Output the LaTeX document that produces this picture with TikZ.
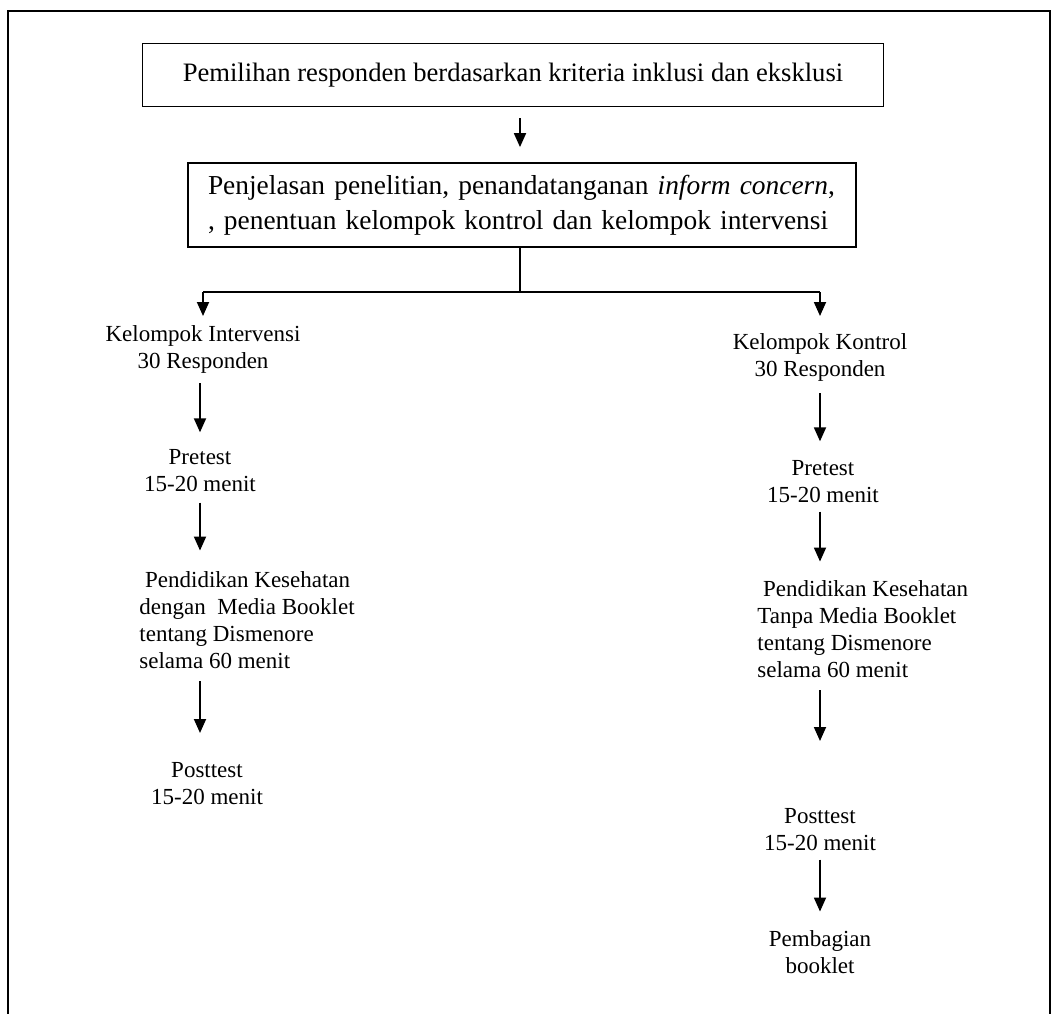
\documentclass[tikz,border=0pt]{standalone}
\usepackage{fontspec}
\setmainfont{Liberation Serif}
\usetikzlibrary{arrows.meta}
\begin{document}
\begin{tikzpicture}[x=0.5pt,y=-0.5pt,>={Triangle[length=7pt,width=6pt]},
  font=\fontsize{11.5}{13.5}\selectfont,
  box/.style={draw,line width=0.6pt,minimum width=370.5pt,minimum height=31.5pt,
    font=\fontsize{13.3}{16}\selectfont},
  txt/.style={align=center,inner sep=1pt},
  arr/.style={->,line width=0.9pt}]
  \useasboundingbox (0,0) rectangle (1057,1014);
  \draw[line width=1pt] (8,1014) -- (8,11) -- (1050,11) -- (1050,1014);
  % alur atas
  \node[box] (pilih) at (513,75) {Pemilihan responden berdasarkan kriteria inklusi dan eksklusi};
  \node[draw,line width=0.9pt,text width=314pt,inner xsep=10pt,minimum height=42pt,align=left,
    font=\fontsize{13.7}{17.5}\selectfont]
    (jelas) at (522,205) {Penjelasan penelitian, penandatanganan \textit{inform concern},\\, penentuan kelompok kontrol dan kelompok intervensi};
  \coordinate (cabang) at (520,292);
  \coordinate (kiri) at (203,292);
  \coordinate (kanan) at (820,292);
  \coordinate (kolKi) at (200,0);
  \draw[arr] (pilih.south -| cabang) ++(0,11) -- ([yshift=7.5pt]jelas.north -| cabang);
  \draw[line width=0.8pt] (jelas.south -| cabang) -- (cabang);
  \draw[line width=0.8pt] (kiri) -- (kanan);
  % kelompok intervensi
  \node[txt] (intv) at (203,349) {Kelompok Intervensi\\30 Responden};
  \node[txt] (preI) at (200,471) {Pretest\\15-20 menit};
  \node[txt,align=left,anchor=west] (pendI) at (137,620) {\ Pendidikan Kesehatan\\dengan \ Media Booklet\\tentang Dismenore\\selama 60 menit};
  \node[txt] (postI) at (207,784) {Posttest\\15-20 menit};
  % kelompok kontrol
  \node[txt] (ktrl) at (820,357) {Kelompok Kontrol\\30 Responden};
  \node[txt] (preK) at (823,482) {Pretest\\15-20 menit};
  \node[txt,align=left,anchor=west] (pendK) at (755,629) {\ Pendidikan Kesehatan\\Tanpa Media Booklet\\tentang Dismenore\\selama 60 menit};
  \node[txt] (postK) at (820,830) {Posttest\\15-20 menit};
  \node[txt] (bagi) at (820,952) {Pembagian\\booklet};
  % panah
  \draw[arr] (kiri) -- ++(0,24);
  \draw[arr] (kanan) -- ++(0,24);
  \draw[arr] (intv.south -| kolKi) ++(0,8) -- ++(0,49);
  \draw[arr] (preI.south -| kolKi) ++(0,8) -- ++(0,48);
  \draw[arr] (pendI.south -| kolKi) ++(0,10) -- ++(0,52);
  \draw[arr] (ktrl.south -| kanan) ++(0,10) -- ++(0,48);
  \draw[arr] (preK.south -| kanan) ++(0,6) -- ++(0,50);
  \draw[arr] (pendK.south -| kanan) ++(0,10) -- ++(0,51);
  \draw[arr] (postK.south -| kanan) ++(0,6) -- ++(0,52);
\end{tikzpicture}
\end{document}
